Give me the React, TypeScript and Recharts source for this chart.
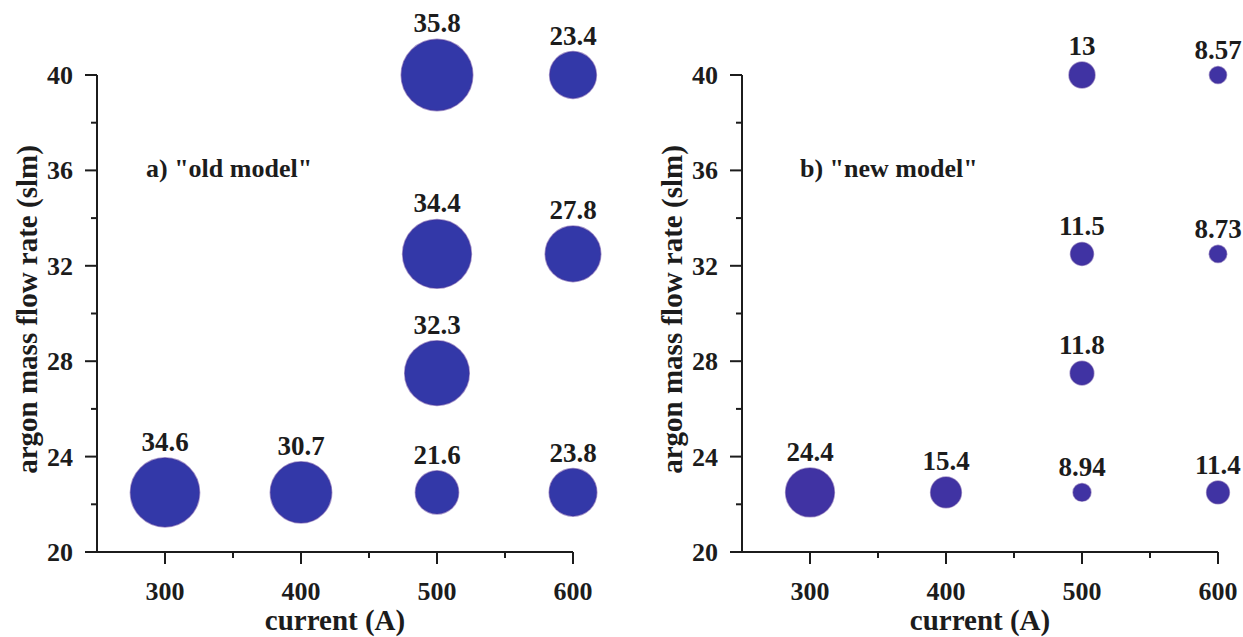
import { ScatterChart, Scatter, XAxis, YAxis } from "recharts";

// bubble positions (current, argon flow) and the values written over them
const currents = [300, 400, 500, 600, 500, 500, 600, 500, 600];
const flowRates = [22.5, 22.5, 22.5, 22.5, 27.5, 32.5, 32.5, 40, 40];
const oldModel = [34.6, 30.7, 21.6, 23.8, 32.3, 34.4, 27.8, 35.8, 23.4];
const newModel = [24.4, 15.4, 8.94, 11.4, 11.8, 11.5, 8.73, 13, 8.57];

const xTicks = [300, 350, 400, 450, 500, 550, 600];
const yTicks = [20, 22, 24, 26, 28, 30, 32, 34, 36, 38, 40];

const oldData = currents.map((x, i) => ({ x, y: flowRates[i], z: oldModel[i] }));
const newData = currents.map((x, i) => ({ x, y: flowRates[i], z: newModel[i] }));

const ink = "#1c1c1c";
const serif = "'Liberation Serif', 'Times New Roman', serif";

const XTick = (props: any) => {
  const { x, y, payload } = props;
  const major = payload.value % 100 === 0;
  return (
    <g>
      <line x1={x} x2={x} y1={y} y2={y + (major ? 12 : 6)} stroke={ink} strokeWidth={2} />
      {major && (
        <text x={x} y={y + 48} textAnchor="middle" fill={ink} fontFamily={serif} fontWeight="bold" fontSize={26}>
          {payload.value}
        </text>
      )}
    </g>
  );
};

const YTick = (props: any) => {
  const { x, y, payload } = props;
  const major = payload.value % 4 === 0;
  return (
    <g>
      <line x1={x - (major ? 12 : 6)} x2={x} y1={y} y2={y} stroke={ink} strokeWidth={2} />
      {major && (
        <text x={x - 24} y={y + 9} textAnchor="end" fill={ink} fontFamily={serif} fontWeight="bold" fontSize={26}>
          {payload.value}
        </text>
      )}
    </g>
  );
};

const makeBubble = (color: string) => (props: any) => {
  const { cx, cy, payload } = props;
  const r = payload.z;
  return (
    <g>
      <circle cx={cx} cy={cy} r={r} fill={color} stroke="#4a2f98" strokeOpacity={0.5} strokeWidth={1.5} />
      <text x={cx} y={cy - r - 7} textAnchor="middle" fill={ink} fontFamily={serif} fontWeight="bold" fontSize={27}>
        {payload.z}
      </text>
    </g>
  );
};

const xTitle = (props: any) => {
  const { x, y, width } = props.viewBox;
  return (
    <text x={x + width / 2} y={y + 78} textAnchor="middle" fill={ink} fontFamily={serif} fontWeight="bold" fontSize={29}>
      current (A)
    </text>
  );
};

const yTitle = (cx: number) => (props: any) => {
  const { y, height } = props.viewBox;
  return (
    <text
      transform={`translate(${cx}, ${y + height / 2 - 4}) rotate(-90)`}
      textAnchor="middle"
      dominantBaseline="central"
      fill={ink}
      fontFamily={serif}
      fontWeight="bold"
      fontSize={29}
    >
      argon mass flow rate (slm)
    </text>
  );
};

function Panel({ data, color, width, right, yWidth, titleX }: any) {
  return (
    <ScatterChart width={width} height={637} margin={{ top: 75, right, bottom: 0, left: 0 }}>
      <XAxis
        type="number"
        dataKey="x"
        domain={[250, 600]}
        ticks={xTicks}
        interval={0}
        height={85}
        tickSize={0}
        tickMargin={0}
        tick={<XTick />}
        axisLine={{ stroke: ink, strokeWidth: 2 }}
        label={{ content: xTitle }}
      />
      <YAxis
        type="number"
        dataKey="y"
        domain={[20, 40]}
        ticks={yTicks}
        interval={0}
        width={yWidth}
        tickSize={0}
        tickMargin={0}
        tick={<YTick />}
        axisLine={{ stroke: ink, strokeWidth: 2 }}
        label={{ content: yTitle(titleX) }}
      />
      <Scatter data={data} shape={makeBubble(color)} isAnimationActive={false} />
    </ScatterChart>
  );
}

export default function App() {
  const note = { fill: ink, fontFamily: serif, fontWeight: "bold" as const, fontSize: 26 };
  return (
    <div style={{ position: "absolute", left: 0, top: 0, width: 1243, height: 637, background: "#fff", overflow: "hidden" }}>
      <div style={{ position: "absolute", left: 0, top: 0 }}>
        <Panel data={oldData} color="#3338a8" width={640} right={67} yWidth={97} titleX={27} />
      </div>
      <div style={{ position: "absolute", left: 640, top: 0 }}>
        <Panel data={newData} color="#4033a3" width={660} right={82} yWidth={102} titleX={32} />
      </div>
      <svg width={1243} height={637} style={{ position: "absolute", left: 0, top: 0, pointerEvents: "none" }}>
        <text x={146} y={177} {...note}>a) "old model"</text>
        <text x={800} y={177} {...note}>b) "new model"</text>
      </svg>
    </div>
  );
}
